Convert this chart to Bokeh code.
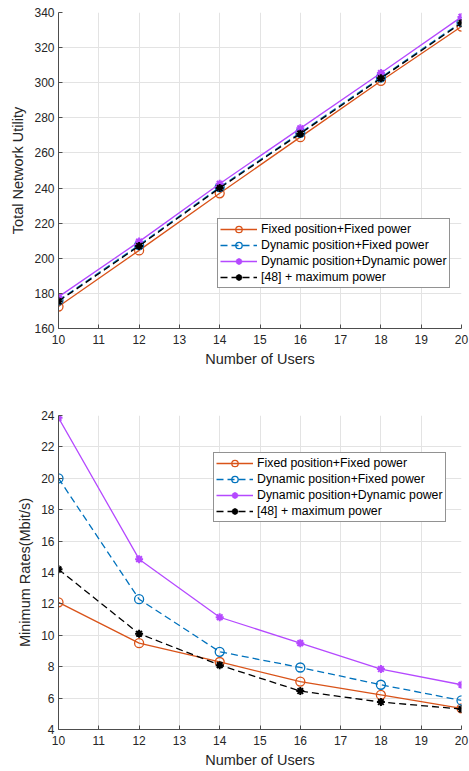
from bokeh.plotting import figure
from bokeh.layouts import column
from bokeh.models import Legend, LegendItem, FixedTicker
from bokeh.embed import file_html
from bokeh.resources import INLINE

users = [10, 12, 14, 16, 18, 20]
labels = ["Fixed position+Fixed power", "Dynamic position+Fixed power",
          "Dynamic position+Dynamic power", "[48] + maximum power"]

util_fixed_fixed = [172.5, 204.5, 237.0, 269.0, 301.0, 332.0]
util_dyn_fixed = [176.0, 207.5, 240.5, 271.5, 303.0, 334.5]
util_dyn_dyn = [178.0, 209.5, 242.5, 274.0, 305.5, 337.5]
util_ref48 = [175.5, 207.0, 240.0, 271.0, 302.5, 334.0]

rate_fixed_fixed = [12.1, 9.5, 8.3, 7.05, 6.2, 5.35]
rate_dyn_fixed = [20.0, 12.3, 8.95, 7.95, 6.85, 5.85]
rate_dyn_dyn = [23.85, 14.85, 11.15, 9.5, 7.85, 6.85]
rate_ref48 = [14.2, 10.1, 8.1, 6.45, 5.75, 5.3]

colors = ["#D95319", "#0072BD", "#B549FF", "#000000"]
dashes = ["solid", "7 4", "solid", "7 4"]
markers = ["circle", "circle", "asterisk", "asterisk"]
FONT = "Liberation Sans"
TXT = "#262626"


def make(series, yr, yticks, ylabel, top, frame_h, bottom, leg_loc):
    p = figure(frame_width=403, frame_height=frame_h, x_range=(10, 20), y_range=yr,
               output_backend="svg", toolbar_location=None,
               min_border_left=58, min_border_right=8, min_border_top=top,
               min_border_bottom=bottom)
    p.outline_line_color = None
    p.xaxis.ticker = FixedTicker(ticks=list(range(10, 21)))
    p.yaxis.ticker = FixedTicker(ticks=yticks)
    for ax in (p.xaxis, p.yaxis):
        ax.major_tick_in = 4
        ax.major_tick_out = 0
        ax.minor_tick_line_color = None
        ax.axis_line_color = "#4D4D4D"
        ax.major_tick_line_color = "#4D4D4D"
        ax.major_label_text_font = FONT
        ax.major_label_text_font_size = "12px"
        ax.major_label_text_color = TXT
        ax.axis_label_text_font = FONT
        ax.axis_label_text_font_size = "14.5px"
        ax.axis_label_text_font_style = "normal"
        ax.axis_label_text_color = TXT
    p.xaxis.major_label_standoff = 6
    p.xaxis.axis_label_standoff = 4
    p.yaxis.major_label_standoff = 4
    p.yaxis.axis_label_standoff = 5
    p.xaxis.axis_label = "Number of Users"
    p.yaxis.axis_label = ylabel
    p.grid.grid_line_color = "#E3E3E3"
    p.grid.grid_line_width = 1
    items = []
    for i, ys in enumerate(series):
        r1 = p.line(users, ys, color=colors[i], line_width=1.3, line_dash=dashes[i])
        if markers[i] == "circle":
            r2 = p.scatter(users, ys, marker="circle", size=9, line_color=colors[i],
                           fill_color=None, line_width=1.3)
        else:
            r2 = p.scatter(users, ys, marker="asterisk", size=8, line_color=colors[i],
                           line_width=2)
        items.append(LegendItem(label=labels[i], renderers=[r1, r2]))
    leg = Legend(items=items, location=leg_loc)
    leg.label_text_font = FONT
    leg.label_text_font_size = "12.3px"
    leg.label_text_color = "#000000"
    leg.glyph_width = 37
    leg.glyph_height = 16
    leg.label_height = 16
    leg.spacing = 0
    leg.padding = 2
    leg.margin = 0
    leg.label_standoff = 4
    leg.border_line_color = "#262626"
    leg.border_line_width = 1
    leg.background_fill_alpha = 1
    p.add_layout(leg, "center")
    return p


p1 = make([util_fixed_fixed, util_dyn_fixed, util_dyn_dyn, util_ref48], (160, 340),
          list(range(160, 341, 20)), "Total Network Utility", 12, 316, 58, (159, 40))
p2 = make([rate_fixed_fixed, rate_dyn_fixed, rate_dyn_dyn, rate_ref48], (4, 24),
          list(range(4, 25, 2)), "Minimum Rates(Mbit/s)", 29, 314, 41, (155, 207))

layout = column(p1, p2, spacing=0)
open("out.html", "w").write(file_html(layout, INLINE))
